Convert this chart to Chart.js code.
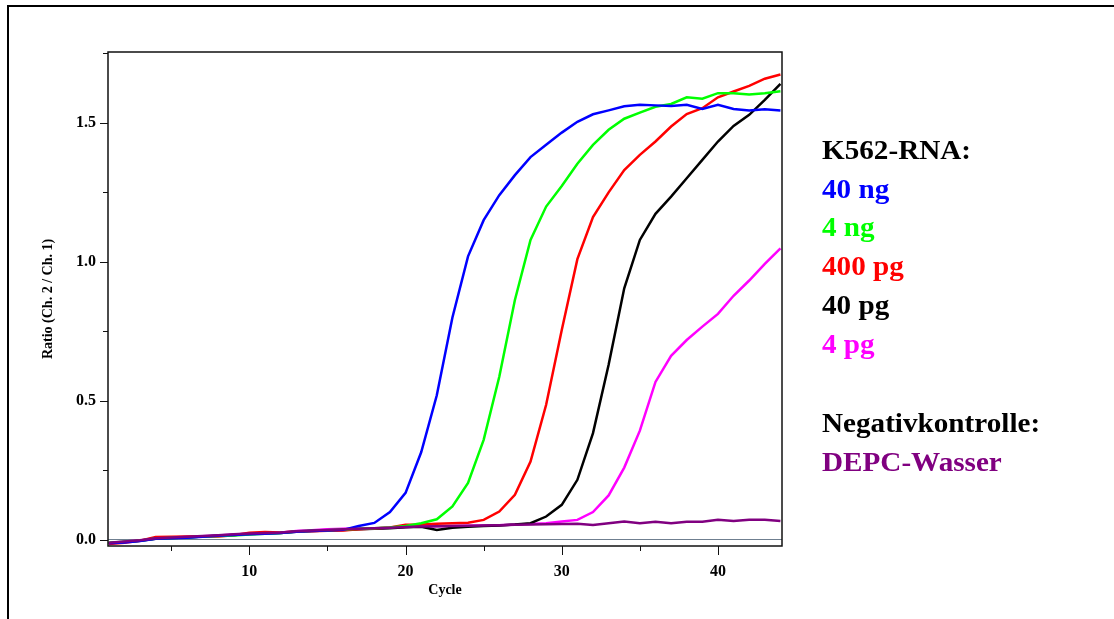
<!DOCTYPE html>
<html>
<head>
<meta charset="utf-8">
<script src="https://cdn.jsdelivr.net/npm/chart.js@4/dist/chart.umd.min.js"></script>
<style>
html, body { margin: 0; padding: 0; background: #fff; }
#wrap { position: relative; width: 1114px; height: 619px; overflow: hidden; }
#frame { position: absolute; left: 7px; top: 5px; width: 1200px; height: 700px; border-top: 2px solid #000; border-left: 2px solid #000; }
canvas { position: absolute; left: 0; top: 0; }
#legend { position: absolute; left: 822px; top: 131px; font: bold 27px "Liberation Serif", serif; line-height: 38.7px; white-space: nowrap; transform: scaleX(1.08); transform-origin: left top; }
#legend .gap { height: 41px; }
</style>
</head>
<body>
<div id="wrap">
  <div id="frame"></div>
  <canvas id="chart" width="1114" height="619"></canvas>
  <div id="legend"></div>
</div>
<script>
// cycle numbers
const cycles = [1, 2, 3, 4, 5, 6, 7, 8, 9, 10, 11, 12, 13, 14, 15, 16, 17, 18, 19, 20, 21, 22,
  23, 24, 25, 26, 27, 28, 29, 30, 31, 32, 33, 34, 35, 36, 37, 38, 39, 40, 41, 42, 43, 44]

// ratio Ch.2 / Ch.1 per cycle
const ng40 = [-0.012, -0.009, -0.004, 0.004, 0.006, 0.008, 0.011, 0.015, 0.018, 0.020,
  0.022, 0.025, 0.029, 0.032, 0.034, 0.036, 0.050, 0.061, 0.100, 0.169,
  0.315, 0.520, 0.800, 1.020, 1.150, 1.240, 1.312, 1.377, 1.421, 1.465,
  1.504, 1.531, 1.545, 1.560, 1.565, 1.563, 1.561, 1.565, 1.550, 1.565,
  1.550, 1.545, 1.549, 1.545]
const ng4 = [-0.010, -0.007, -0.003, 0.005, 0.007, 0.009, 0.012, 0.014, 0.016, 0.019,
  0.022, 0.025, 0.030, 0.033, 0.035, 0.037, 0.040, 0.042, 0.045, 0.050,
  0.060, 0.074, 0.120, 0.205, 0.360, 0.587, 0.863, 1.079, 1.199, 1.273,
  1.353, 1.421, 1.475, 1.515, 1.537, 1.558, 1.568, 1.592, 1.587, 1.607,
  1.607, 1.602, 1.607, 1.614]
const pg400 = [-0.015, -0.010, -0.003, 0.010, 0.011, 0.012, 0.013, 0.012, 0.017, 0.026,
  0.028, 0.027, 0.030, 0.031, 0.033, 0.034, 0.038, 0.041, 0.045, 0.054,
  0.055, 0.058, 0.060, 0.062, 0.072, 0.102, 0.162, 0.282, 0.486, 0.755,
  1.010, 1.161, 1.250, 1.330, 1.385, 1.433, 1.487, 1.532, 1.553, 1.592,
  1.613, 1.633, 1.659, 1.674]
const pg40 = [-0.012, -0.008, -0.003, 0.004, 0.007, 0.009, 0.012, 0.015, 0.018, 0.021,
  0.023, 0.025, 0.029, 0.032, 0.034, 0.036, 0.038, 0.040, 0.042, 0.045,
  0.047, 0.036, 0.044, 0.047, 0.050, 0.052, 0.055, 0.060, 0.084, 0.126,
  0.216, 0.384, 0.630, 0.905, 1.079, 1.173, 1.235, 1.301, 1.367, 1.433,
  1.489, 1.529, 1.583, 1.640]
const pg4 = [-0.011, -0.007, -0.002, 0.005, 0.008, 0.010, 0.013, 0.016, 0.019, 0.022,
  0.024, 0.026, 0.032, 0.035, 0.038, 0.040, 0.041, 0.042, 0.044, 0.046,
  0.048, 0.049, 0.050, 0.051, 0.052, 0.053, 0.055, 0.057, 0.060, 0.066,
  0.072, 0.100, 0.160, 0.260, 0.393, 0.568, 0.662, 0.719, 0.767, 0.813,
  0.878, 0.933, 0.993, 1.049]
const depc = [-0.010, -0.006, -0.001, 0.006, 0.009, 0.011, 0.014, 0.017, 0.020, 0.023,
  0.025, 0.027, 0.031, 0.034, 0.036, 0.038, 0.040, 0.042, 0.044, 0.046,
  0.048, 0.049, 0.050, 0.051, 0.052, 0.053, 0.054, 0.055, 0.056, 0.057,
  0.058, 0.054, 0.060, 0.066, 0.060, 0.065, 0.060, 0.065, 0.065, 0.072,
  0.068, 0.072, 0.072, 0.068]

const xTicks = [5, 10, 15, 20, 25, 30, 35, 40]
const yTicks = [0, 0.25, 0.5, 0.75, 1.0, 1.25, 1.5, 1.75]

const legendTitle = 'K562-RNA:'
const negTitle = 'Negativkontrolle:'
const series = [
  { label: '40 ng', values: ng40, color: '#0000ff' },
  { label: '4 ng', values: ng4, color: '#00ff00' },
  { label: '400 pg', values: pg400, color: '#ff0000' },
  { label: '40 pg', values: pg40, color: '#000000' },
  { label: '4 pg', values: pg4, color: '#ff00ff' }
]
const negative = { label: 'DEPC-Wasser', values: depc, color: '#800080' }

// legend as plain text on the right
const legend = document.getElementById('legend')
function addLine(text, color) {
  const d = document.createElement('div')
  d.textContent = text
  d.style.color = color
  legend.appendChild(d)
}
addLine(legendTitle, '#000')
series.forEach(s => addLine(s.label, s.color))
legend.appendChild(Object.assign(document.createElement('div'), { className: 'gap' }))
addLine(negTitle, '#000')
addLine(negative.label, negative.color)

const serif = 'Liberation Serif'

// plot box and tick marks (major / minor)
const axisMarks = {
  id: 'axisMarks',
  afterDraw(chart) {
    const { ctx, chartArea: a, scales: { x, y } } = chart
    ctx.save()
    ctx.strokeStyle = '#111'
    ctx.lineWidth = 1.5
    ctx.strokeRect(a.left, a.top, a.right - a.left, a.bottom - a.top)
    ctx.lineWidth = 1
    ctx.beginPath()
    x.ticks.forEach(t => {
      const px = Math.round(x.getPixelForValue(t.value)) + 0.5
      ctx.moveTo(px, a.bottom)
      ctx.lineTo(px, a.bottom + (t.value % 10 === 0 ? 9 : 5))
    })
    y.ticks.forEach(t => {
      const py = Math.round(y.getPixelForValue(t.value)) + 0.5
      ctx.moveTo(a.left, py)
      ctx.lineTo(a.left - (t.value % 0.5 === 0 ? 8 : 5), py)
    })
    ctx.stroke()
    ctx.restore()
  }
}

const all = [negative, ...series]
new Chart(document.getElementById('chart'), {
  type: 'line',
  data: {
    datasets: all.map((s, i) => ({
      label: s.label,
      data: cycles.map((c, k) => ({ x: c, y: s.values[k] })),
      borderColor: s.color,
      borderWidth: 2.5,
      pointRadius: 0,
      tension: 0,
      fill: false,
      order: i
    }))
  },
  options: {
    responsive: false,
    animation: false,
    layout: { padding: { left: 8, top: 52, right: 332, bottom: 13 } },
    plugins: { legend: { display: false }, tooltip: { enabled: false } },
    scales: {
      x: {
        type: 'linear',
        min: 0.95,
        max: 44.1,
        afterBuildTicks: s => { s.ticks = xTicks.map(v => ({ value: v })) },
        afterFit: s => { s.height = 60 },
        grid: { display: false },
        border: { display: false },
        ticks: {
          autoSkip: false,
          maxRotation: 0,
          padding: 8,
          color: '#000',
          font: { family: serif, weight: 'bold', size: 16 },
          callback: v => (v % 10 === 0 ? String(v) : '')
        },
        title: {
          display: true,
          text: 'Cycle',
          color: '#000',
          font: { family: serif, weight: 'bold', size: 14 },
          padding: { top: 0, bottom: 7.6 }
        }
      },
      y: {
        min: -0.022,
        max: 1.755,
        afterBuildTicks: s => { s.ticks = yTicks.map(v => ({ value: v })) },
        afterFit: s => { s.width = 100 },
        grid: {
          drawTicks: false,
          lineWidth: 1,
          color: c => (c.tick && c.tick.value === 0 ? '#6f7f90' : 'rgba(0,0,0,0)')
        },
        border: { display: false },
        ticks: {
          autoSkip: false,
          padding: 12,
          color: '#000',
          font: { family: serif, weight: 'bold', size: 16 },
          callback: v => (v % 0.5 === 0 ? v.toFixed(1) : '')
        },
        title: {
          display: true,
          text: 'Ratio (Ch. 2 / Ch. 1)',
          color: '#000',
          font: { family: serif, weight: 'bold', size: 14 },
          padding: { top: 31.6, bottom: 0 }
        }
      }
    }
  },
  plugins: [axisMarks]
})
</script>
</body>
</html>
